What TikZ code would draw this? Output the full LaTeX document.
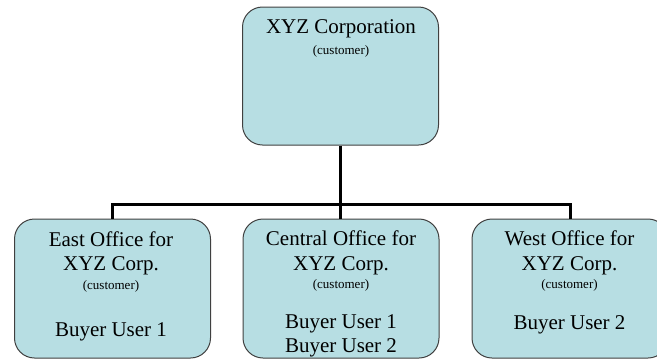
\documentclass[tikz,border=0pt]{standalone}
\usepackage{fontspec}
\setmainfont{Liberation Serif}
\begin{document}
\begin{tikzpicture}[x=1pt,y=-1pt,
  box/.style={draw=black!75, line width=1pt, fill=boxfill, rounded corners=20pt,
    minimum width=196pt, minimum height=139pt, inner sep=0pt},
  conn/.style={line width=3pt, black},
  big/.style={anchor=base, inner sep=0pt, font=\fontsize{21}{24}\selectfont},
  small/.style={anchor=base, inner sep=0pt, font=\fontsize{13}{15}\selectfont}]
\definecolor{boxfill}{RGB}{183,222,227}
\useasboundingbox (0,0) rectangle (657,360);
% boxes
\node[box, minimum height=138pt] (top) at (340.5,76) {};
\node[box] (east) at (112.5,288.5) {};
\node[box] (central) at (341,288.5) {};
\node[box] (west) at (570,288.5) {};
\coordinate (bus) at (0,204);
% connectors
\draw[conn] (top.south) -- (top.south |- central.north);
\draw[conn] (east.north) -- (east.north |- bus) -- (west.north |- bus) -- (west.north);
% texts
\node[big] (t1) at (341,33) {XYZ Corporation};
\node[small] (t2) at (341,54) {(customer)};
\node[big] (e1) at (111,246) {East Office for};
\node[big] (e2) at (111,270) {XYZ Corp.};
\node[small] (e3) at (111,289) {(customer)};
\node[big] (e4) at (111,336) {Buyer User 1};
\node[big] (c1) at (341,245) {Central Office for};
\node[big] (c2) at (341,270) {XYZ Corp.};
\node[small] (c3) at (341,288) {(customer)};
\node[big] (c4) at (341,328) {Buyer User 1};
\node[big] (c5) at (341,352) {Buyer User 2};
\node[big] (w1) at (569.5,245) {West Office for};
\node[big] (w2) at (569.5,270) {XYZ Corp.};
\node[small] (w3) at (569.5,288) {(customer)};
\node[big] (w4) at (569.5,329) {Buyer User 2};
\end{tikzpicture}
\end{document}
